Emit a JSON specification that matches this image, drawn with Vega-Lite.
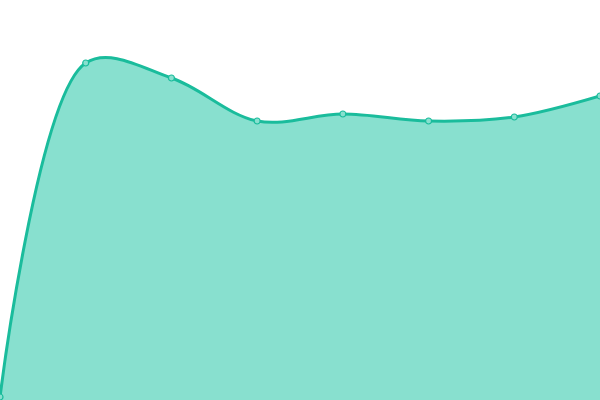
{
  "$schema": "https://vega.github.io/schema/vega-lite/v6.json",
  "autosize": "none",
  "width": 600,
  "height": 400,
  "padding": 0,
  "data": {
    "values": [
      {"i": 0, "v": 3},
      {"i": 1, "v": 337},
      {"i": 2, "v": 322},
      {"i": 3, "v": 279},
      {"i": 4, "v": 286},
      {"i": 5, "v": 279},
      {"i": 6, "v": 283},
      {"i": 7, "v": 304}
    ]
  },
  "encoding": {
    "x": {"field": "i", "type": "quantitative", "scale": {"domain": [0, 7], "nice": false, "zero": false}, "axis": null},
    "y": {"field": "v", "type": "quantitative", "scale": {"domain": [0, 400], "nice": false}, "axis": null}
  },
  "layer": [
    {"mark": {"type": "area", "interpolate": "catmull-rom", "color": "#88e0cf", "opacity": 1}},
    {"mark": {"type": "line", "interpolate": "catmull-rom", "color": "#1abc9c", "strokeWidth": 3}},
    {"mark": {"type": "point", "filled": true, "fill": "#88e0cf", "stroke": "#1abc9c", "strokeWidth": 1.2, "size": 36, "opacity": 1}}
  ],
  "config": {"view": {"stroke": null}}
}
